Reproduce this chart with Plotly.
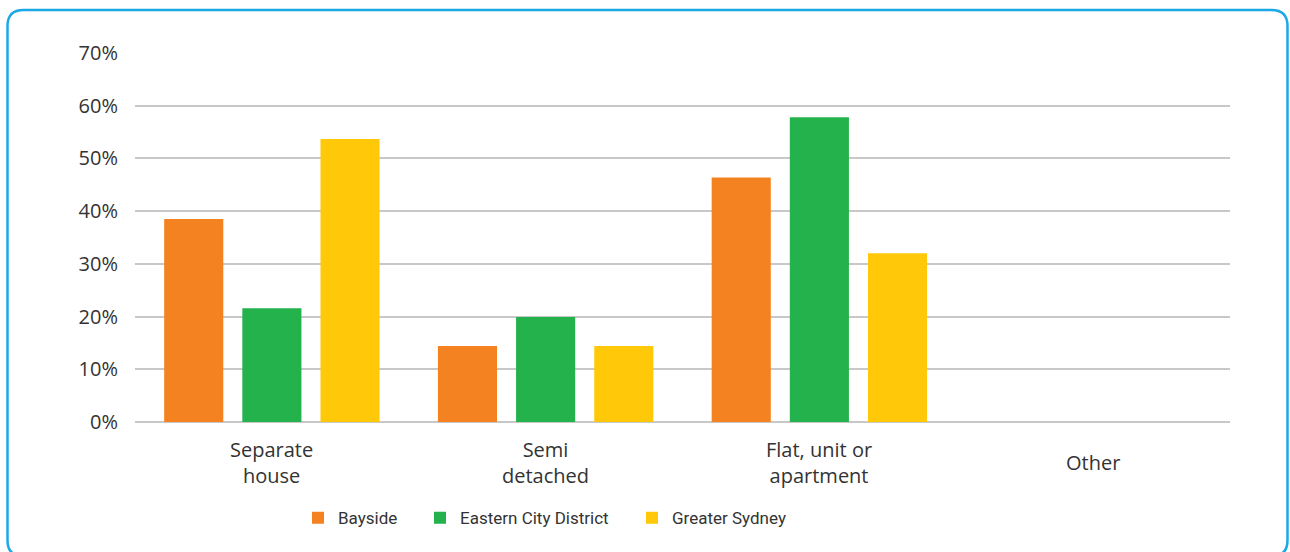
import plotly.graph_objects as go

categories = ["Separate<br>house", "Semi<br>detached", "Flat, unit or<br>apartment", "Other"]
bayside = [38.5, 14.4, 46.4, 0]
eastern = [21.6, 19.9, 57.8, 0]
greater = [53.7, 14.4, 32.0, 0]
series_names = ["Bayside", "Eastern City District", "Greater Sydney"]
colors = ["#F58220", "#23B24B", "#FFC90A"]
tick_vals = [0, 10, 20, 30, 40, 50, 60, 70]
tick_text = ["0%", "10%", "20%", "30%", "40%", "50%", "60%", "70%"]

W, H = 1290, 552
ML, MR, MT, MB = 135, 60, 52.5, 130.3
pw = W - ML - MR
ph = H - MT - MB


def px2paper(x, y):
    return (x - ML) / pw, (H - MB - y) / ph


legend_keys = ["legend", "legend2", "legend3"]
legend_px = [298, 420, 632]

fig = go.Figure()
for name, vals, col, lk in zip(series_names, [bayside, eastern, greater], colors, legend_keys):
    fig.add_trace(go.Bar(x=categories, y=vals, name=name, legend=lk,
                         marker=dict(color=col, line=dict(width=0))))

# category labels (vertically centred like the reference)
_, cy = px2paper(0, 462)
for c in categories:
    fig.add_annotation(x=c, y=cy, xref="x", yref="paper", text=c, showarrow=False,
                       xanchor="center", yanchor="middle", align="center",
                       font=dict(family="Open Sans", size=20, color="#333333"))

# rounded border
x0, y0, x1, y1, r = 7.5, 9.5, 1287.5, 556, 16


def P(x, y):
    a, b = px2paper(x, y)
    return f"{a:.5f},{b:.5f}"


path = (f"M {P(x0 + r, y0)} L {P(x1 - r, y0)} Q {P(x1, y0)} {P(x1, y0 + r)} "
        f"L {P(x1, y1 - r)} Q {P(x1, y1)} {P(x1 - r, y1)} L {P(x0 + r, y1)} "
        f"Q {P(x0, y1)} {P(x0, y1 - r)} L {P(x0, y0 + r)} Q {P(x0, y0)} {P(x0 + r, y0)} Z")
fig.add_shape(type="path", path=path, xref="paper", yref="paper",
              line=dict(color="#1BA9E6", width=2.5), layer="below")

legends = {}
for lk, lpx in zip(legend_keys, legend_px):
    lx, ly = px2paper(lpx, 518)
    legends[lk] = dict(orientation="h", x=lx, y=ly, xanchor="left", yanchor="middle",
                       font=dict(family="Roboto", size=17, color="#333333"),
                       itemclick=False, bgcolor="rgba(0,0,0,0)")

fig.update_layout(
    width=W, height=H,
    margin=dict(l=ML, r=MR, t=MT, b=MB, pad=0),
    paper_bgcolor="white", plot_bgcolor="white",
    font=dict(family="Open Sans", size=20, color="#333333"),
    barmode="group", bargap=0.1436, bargroupgap=0.2436,
    showlegend=True,
    xaxis=dict(showgrid=False, showline=False, zeroline=False, ticks="",
               showticklabels=False),
    yaxis=dict(range=[0, 70], tickvals=tick_vals, ticktext=tick_text,
               showgrid=True, gridcolor="#C8C8C8", gridwidth=1.5,
               zeroline=True, zerolinecolor="#C8C8C8", zerolinewidth=1.5,
               showline=False, ticks="", ticklabelstandoff=16,
               tickfont=dict(size=20)),
    **legends,
)

fig.write_html("out.html")
